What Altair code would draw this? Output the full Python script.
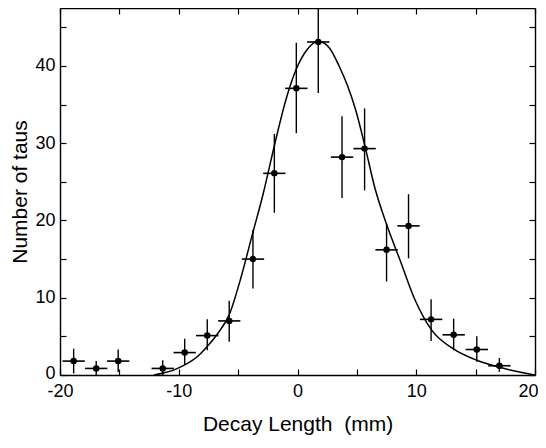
import altair as alt
import pandas as pd

# ---- data ----
bin_center = [-18.85, -16.95, -15.1, -11.35, -9.5, -7.6, -5.75, -3.75, -1.95, -0.1,
              1.75, 3.75, 5.65, 7.5, 9.35, 11.25, 13.15, 15.1, 17.0]
n_taus = [1.8, 0.85, 1.8, 0.85, 2.9, 5.1, 7.0, 15.0, 26.1, 37.1,
          43.1, 28.2, 29.3, 16.2, 19.3, 7.2, 5.2, 3.3, 1.2]
err_hi = [3.4, 1.8, 3.3, 1.9, 4.7, 7.2, 9.6, 18.8, 31.2, 43.0,
          49.6, 33.5, 34.5, 19.6, 23.4, 9.8, 7.3, 5.0, 2.2]
err_lo = [0.2, 0.0, 0.4, 0.0, 1.3, 3.2, 4.3, 11.2, 21.0, 31.3,
          36.5, 22.9, 23.9, 12.1, 15.1, 4.4, 3.2, 1.7, 0.4]
bin_half = 0.94

fit_x = [-12.1, -11.3, -10.5, -9.5, -8.5, -7.6, -6.7, -5.7, -4.8, -3.8, -2.9, -1.9,
         -1.0, -0.1, 0.8, 1.75, 2.7, 3.5, 4.2, 4.9, 5.7, 6.5, 7.5, 8.6, 9.9, 11.3,
         13.1, 15.1, 17.0, 18.5, 20.0]
fit_y = [0.0, 0.25, 0.6, 1.3, 2.3, 3.7, 5.4, 8.0, 12.4, 18.2, 23.4, 30.0,
         35.5, 39.6, 42.1, 43.2, 42.3, 40.0, 37.5, 34.3, 29.5, 24.3, 19.5, 15.0, 9.7, 5.8,
         3.4, 1.9, 1.0, 0.45, 0.0]

x_ticks = [-20, -15, -10, -5, 0, 5, 10, 15, 20]
y_ticks = [0, 5, 10, 15, 20, 25, 30, 35, 40, 45]
x_domain = [-20, 20]
y_domain = [0, 47.5]

pts = pd.DataFrame({"x": bin_center, "y": n_taus, "lo": err_lo, "hi": err_hi})
pts["xl"] = pts["x"] - bin_half
pts["xr"] = pts["x"] + bin_half
fit = pd.DataFrame({"fx": fit_x, "fy": fit_y})

FONT = "Liberation Sans"
xs = alt.Scale(domain=x_domain, nice=False, zero=False)
ys = alt.Scale(domain=y_domain, nice=False, zero=False)


def axis(orient, values, labels=True, title_pad=0):
    kw = dict(
        orient=orient, values=values, grid=False,
        tickSize=alt.ExprRef(expr="-6"), tickColor="black", tickWidth=1.2,
        domainColor="black", domainWidth=1.4,
        labels=labels,
    )
    if labels:
        kw.update(
            labelExpr="datum.value % 10 === 0 ? '' + datum.value : ''",
            labelFont=FONT, labelFontSize=18, labelColor="black",
            labelFlush=False,
            labelPadding=13 if orient == "bottom" else 11,
            titleFont=FONT, titleFontSize=21, titleFontWeight="normal",
            titleColor="black", titlePadding=title_pad,
        )
        if orient == "bottom":
            kw.update(
                labelAlign={"condition": {"test": "datum.value === 20", "value": "right"},
                            "value": "center"},
                labelOffset={"condition": {"test": "datum.value === 20", "value": 3},
                             "value": 0},
            )
        else:
            kw.update(
                labelOffset={"condition": {"test": "datum.value === 0", "value": -2},
                             "value": 0},
            )
    return alt.Axis(**kw)


line = alt.Chart(fit).mark_line(color="black", strokeWidth=1.5, interpolate="monotone").encode(
    x=alt.X("fx:Q", scale=xs, axis=axis("bottom", x_ticks, title_pad=13),
            title="Decay Length\u00a0 (mm)"),
    y=alt.Y("fy:Q", scale=ys, axis=axis("left", y_ticks, title_pad=4),
            title="Number of taus"),
)

vbar = alt.Chart(pts).mark_rule(color="black", strokeWidth=1.4, clip=True).encode(
    x=alt.X("x:Q", scale=xs, axis=axis("top", x_ticks, labels=False), title=None),
    y=alt.Y("lo:Q", scale=ys, axis=axis("right", y_ticks, labels=False), title=None),
    y2="hi:Q",
)

hbar = alt.Chart(pts).mark_rule(color="black", strokeWidth=1.6).encode(
    x=alt.X("xl:Q", scale=xs, axis=None),
    x2="xr:Q",
    y=alt.Y("y:Q", scale=ys, axis=None),
)

dots = alt.Chart(pts).mark_circle(color="black", size=42, opacity=1).encode(
    x=alt.X("x:Q", scale=xs, axis=None),
    y=alt.Y("y:Q", scale=ys, axis=None),
)

chart = (
    alt.layer(line, vbar, hbar, dots)
    .resolve_axis(x="independent", y="independent")
    .properties(
        width=475, height=367,
        autosize=alt.AutoSizeParams(type="none"),
        padding={"left": 52, "top": 0, "right": 3, "bottom": 65},
        background="white",
    )
    .configure_view(stroke=None)
)

chart.save("out.html", embed_options={"renderer": "svg", "actions": False})
